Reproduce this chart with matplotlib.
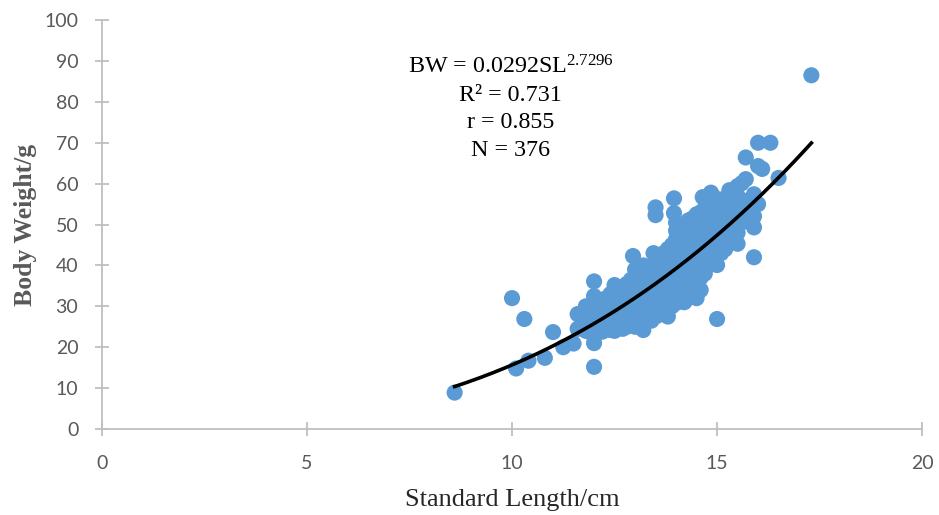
import numpy as np
import matplotlib.pyplot as plt

plt.rcParams['mathtext.fontset'] = 'custom'
plt.rcParams['mathtext.rm'] = 'Liberation Serif'
plt.rcParams['mathtext.default'] = 'regular'

# standard length (cm) and body weight (g)
sl = [8.6, 10.0, 10.1, 10.3, 10.4, 10.8, 11.0, 11.25, 11.5,
      11.6, 11.6, 11.7,
      11.8, 11.8, 11.8, 11.8,
      12.0, 12.0, 12.0, 12.0, 12.0, 12.0, 12.0, 12.0, 12.0,
      12.1, 12.1, 12.1, 12.1,
      12.2, 12.2, 12.2, 12.2, 12.2,
      12.3, 12.3, 12.3, 12.3,
      12.4, 12.4, 12.4, 12.4, 12.4,
      12.5, 12.5, 12.5, 12.5, 12.5, 12.5,
      12.6, 12.6, 12.6, 12.6, 12.6,
      12.7, 12.7, 12.7, 12.7, 12.7, 12.7,
      12.8, 12.8, 12.8, 12.8, 12.8, 12.8,
      12.9, 12.9, 12.9, 12.9, 12.9, 12.9,
      13.0, 13.0, 13.0, 13.0, 13.0, 13.0, 13.0, 13.0, 12.95,
      13.1, 13.1, 13.1, 13.1, 13.1, 13.1, 13.1,
      13.2, 13.2, 13.2, 13.2, 13.2, 13.2, 13.2, 13.2, 13.2,
      13.3, 13.3, 13.3, 13.3, 13.3, 13.3, 13.3,
      13.4, 13.4, 13.4, 13.4, 13.4, 13.4, 13.4, 13.45,
      13.5, 13.5, 13.5, 13.5, 13.5, 13.5, 13.5, 13.5, 13.5, 13.5,
      13.6, 13.6, 13.6, 13.6, 13.6, 13.6, 13.6, 13.6,
      13.7, 13.7, 13.7, 13.7, 13.7, 13.7, 13.7, 13.7,
      13.8, 13.8, 13.8, 13.8, 13.8, 13.8, 13.8, 13.8, 13.8,
      13.9, 13.9, 13.9, 13.9, 13.9, 13.9, 13.9, 13.9,
      14.0, 14.0, 14.0, 14.0, 14.0, 14.0, 14.0, 14.0, 14.0, 14.0, 14.0, 13.95, 13.95,
      14.1, 14.1, 14.1, 14.1, 14.1, 14.1, 14.1, 14.1, 14.1,
      14.2, 14.2, 14.2, 14.2, 14.2, 14.2, 14.2, 14.2, 14.2, 14.2,
      14.3, 14.3, 14.3, 14.3, 14.3, 14.3, 14.3, 14.3, 14.3, 14.3,
      14.4, 14.4, 14.4, 14.4, 14.4, 14.4, 14.4, 14.4, 14.4, 14.4,
      14.5, 14.5, 14.5, 14.5, 14.5, 14.5, 14.5, 14.5, 14.5, 14.5, 14.5,
      14.6, 14.6, 14.6, 14.6, 14.6, 14.6, 14.6, 14.6, 14.6, 14.65,
      14.7, 14.7, 14.7, 14.7, 14.7, 14.7, 14.7, 14.7,
      14.8, 14.8, 14.8, 14.8, 14.8, 14.8, 14.8, 14.85,
      14.9, 14.9, 14.9, 14.9, 14.9, 14.9, 14.9, 14.9,
      15.0, 15.0, 15.0, 15.0, 15.0, 15.0, 15.0, 15.0,
      15.1, 15.1, 15.1, 15.1, 15.1, 15.1,
      15.2, 15.2, 15.2, 15.2, 15.2, 15.2,
      15.3, 15.3, 15.3, 15.3, 15.3, 15.3,
      15.4, 15.4, 15.4, 15.4, 15.4,
      15.5, 15.5, 15.5, 15.5, 15.5, 15.5,
      15.6, 15.6, 15.6, 15.6,
      15.7, 15.7, 15.7, 15.7,
      15.8, 15.8,
      15.9, 15.9, 15.9, 15.9,
      16.0, 16.0, 16.0, 16.1, 16.3, 16.5, 17.3]

bw = [8.9, 32.0, 14.8, 26.9, 16.7, 17.4, 23.7, 20.0, 20.9,
      28.1, 24.5, 25.5,
      24.0, 26.0, 28.5, 30.0,
      15.2, 21.0, 22.5, 25.0, 27.0, 29.0, 31.0, 32.5, 36.1,
      24.0, 26.5, 28.0, 30.5,
      23.8, 25.5, 27.5, 29.5, 31.5,
      25.0, 27.0, 29.0, 32.0,
      24.2, 26.0, 28.0, 30.0, 33.0,
      24.0, 25.5, 27.5, 29.5, 31.5, 35.2,
      25.0, 27.0, 29.0, 31.0, 33.5,
      24.5, 26.5, 28.5, 30.5, 32.5, 34.5,
      25.0, 27.5, 29.5, 31.5, 33.0, 35.5,
      26.0, 28.0, 30.0, 32.0, 34.0, 36.5,
      25.0, 27.0, 29.0, 31.0, 33.0, 35.0, 37.0, 39.0, 42.3,
      26.0, 28.5, 30.5, 32.5, 34.5, 36.5, 38.5,
      24.2, 26.5, 28.0, 30.0, 32.0, 34.0, 36.0, 38.0, 40.0,
      27.0, 29.0, 31.0, 33.0, 35.0, 37.0, 39.5,
      26.5, 28.5, 30.5, 32.5, 34.5, 36.5, 38.5, 43.0,
      27.5, 29.5, 31.5, 33.5, 35.5, 37.5, 40.0, 42.5, 52.3, 54.2,
      28.0, 30.0, 32.0, 34.0, 36.0, 38.0, 40.0, 42.0,
      28.5, 30.5, 32.5, 34.5, 36.5, 38.5, 41.0, 43.0,
      27.5, 29.5, 31.5, 33.5, 35.5, 37.5, 39.5, 42.0, 44.0,
      30.0, 32.0, 34.0, 36.0, 38.0, 40.0, 42.0, 45.0,
      30.8, 32.5, 34.5, 36.5, 38.5, 40.5, 42.5, 44.5, 46.5, 48.5, 50.5, 52.8, 56.4,
      31.5, 33.5, 35.5, 37.5, 39.5, 41.5, 43.5, 45.5, 48.0,
      31.0, 33.0, 35.0, 37.0, 39.0, 41.0, 43.0, 45.0, 47.0, 49.5,
      32.0, 34.0, 36.0, 38.0, 40.0, 42.0, 44.0, 46.0, 48.0, 51.0,
      32.5, 34.5, 36.5, 38.5, 40.5, 42.5, 44.5, 46.5, 49.0, 51.5,
      32.0, 34.0, 36.0, 38.0, 40.0, 42.0, 44.0, 46.5, 48.5, 50.5, 52.5,
      34.0, 37.0, 40.0, 43.0, 45.0, 47.0, 49.0, 51.0, 53.0, 56.7,
      38.0, 41.0, 44.0, 46.0, 48.0, 50.0, 52.0, 54.0,
      40.0, 43.0, 45.5, 47.5, 50.0, 52.5, 55.0, 57.8,
      41.0, 44.0, 46.0, 48.5, 51.0, 53.0, 55.5, 57.0,
      26.9, 40.1, 42.5, 45.0, 47.5, 50.0, 52.5, 55.0,
      43.0, 45.5, 48.0, 50.5, 53.0, 55.5,
      44.0, 46.5, 49.0, 51.5, 54.0, 56.5,
      46.0, 48.5, 51.0, 53.5, 56.0, 58.4,
      47.0, 49.5, 52.0, 54.5, 57.0,
      45.3, 48.0, 51.0, 54.0, 57.0, 59.4,
      50.5, 53.0, 56.0, 60.1,
      52.0, 55.0, 61.1, 66.4,
      51.5, 56.0,
      42.0, 49.3, 52.0, 57.4,
      55.0, 64.3, 70.0, 63.6, 70.0, 61.4, 86.5]

# fitted power curve shown on the chart: BW = a * SL^b
a, b = 0.0292, 2.7296
sl_fit = np.linspace(8.6, 17.3, 200)
bw_fit = a * sl_fit ** b

fig = plt.figure(figsize=(9.39, 5.15), dpi=100)
ax = fig.add_axes([0.1086, 0.167, 0.8734, 0.794])

ax.scatter(sl, bw, s=135, color='#5B9BD5', edgecolors='none', zorder=2)
ax.plot(sl_fit, bw_fit, color='black', linewidth=2.6, zorder=3)

ax.set_xlim(0, 20)
ax.set_ylim(0, 100)
ax.set_xticks([0, 5, 10, 15, 20])
ax.set_yticks(range(0, 101, 10))

for side in ['top', 'right']:
    ax.spines[side].set_visible(False)
for side in ['left', 'bottom']:
    ax.spines[side].set_color('#BFBFBF')
    ax.spines[side].set_linewidth(1.3)
ax.tick_params(direction='inout', length=10, width=1.3, color='#BFBFBF',
               labelcolor='#595959', labelsize=14)
ax.tick_params(axis='x', pad=14)
ax.tick_params(axis='y', pad=12)
for lab in ax.get_xticklabels() + ax.get_yticklabels():
    lab.set_family('Lato')

ax.set_xlabel('Standard Length/cm', family='Liberation Serif', fontsize=19,
              color='#262626', labelpad=12)
ax.set_ylabel('Body Weight/g', family='Liberation Serif', fontsize=18.5,
              fontweight='bold', color='#595959', labelpad=5)

eq_lines = ['BW = 0.0292SL$^{2.7296}$', 'R² = 0.731', 'r = 0.855', 'N = 376']
eq_y = [88.6, 81.6, 75.0, 68.2]
for txt, yy in zip(eq_lines, eq_y):
    ax.text(9.97, yy, txt, ha='center', va='center', family='Liberation Serif',
            fontsize=17.3, color='black')

fig.savefig('out.png', dpi=100)
